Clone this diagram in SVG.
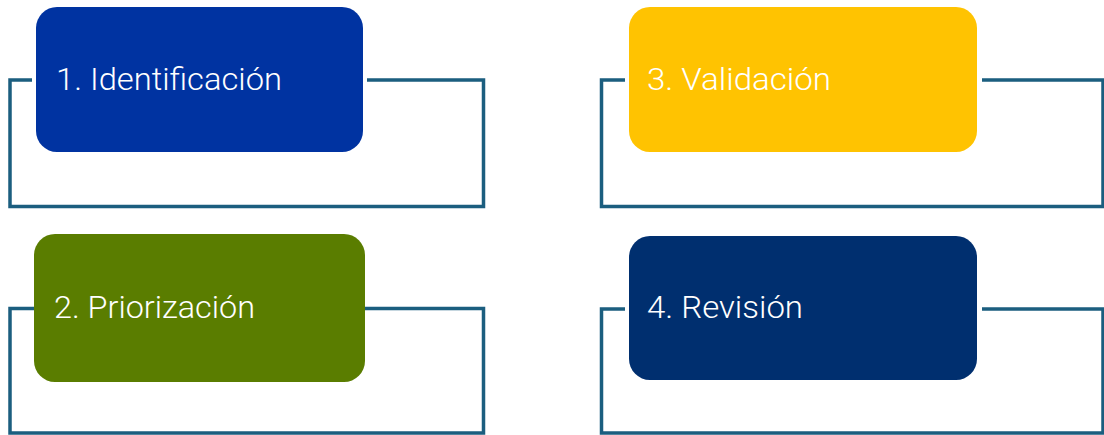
<svg xmlns="http://www.w3.org/2000/svg" width="1104" height="435" viewBox="0 0 1104 435">
<style>
.frame{fill:none;stroke:#1B5E7F;stroke-width:3.5}
.lbl{font-family:Roboto,"Liberation Sans",sans-serif;font-size:32px;font-weight:300;fill:#ffffff}
</style>
<rect width="1104" height="435" fill="#ffffff"/>
<g id="connectors">
<path class="frame" d="M32,80 H10 V206.5 H483.5 V80 H367"/>
<path class="frame" d="M625,80 H601.5 V206.5 H1103 V80 H982"/>
<path class="frame" d="M36,308.5 H10 V433 H483.5 V308.5 H362"/>
<path class="frame" d="M625,309 H601.5 V433 H1103 V309 H982"/>
</g>
<g id="node1">
<rect x="36" y="7" width="327" height="145" rx="21" fill="#0033A1"/>
<text class="lbl" x="56" y="90" textLength="226" lengthAdjust="spacingAndGlyphs">1. Identificación</text>
</g>
<g id="node3">
<rect x="629" y="7" width="348" height="145" rx="21" fill="#FFC301"/>
<text class="lbl" x="647" y="90" textLength="184" lengthAdjust="spacingAndGlyphs">3. Validación</text>
</g>
<g id="node2">
<rect x="34" y="234" width="331" height="148" rx="21" fill="#5A7D00"/>
<text class="lbl" x="54" y="318" textLength="201" lengthAdjust="spacingAndGlyphs">2. Priorización</text>
</g>
<g id="node4">
<rect x="629" y="236" width="348" height="144" rx="21" fill="#002F6F"/>
<text class="lbl" x="647" y="318" textLength="156" lengthAdjust="spacingAndGlyphs">4. Revisión</text>
</g>
</svg>
